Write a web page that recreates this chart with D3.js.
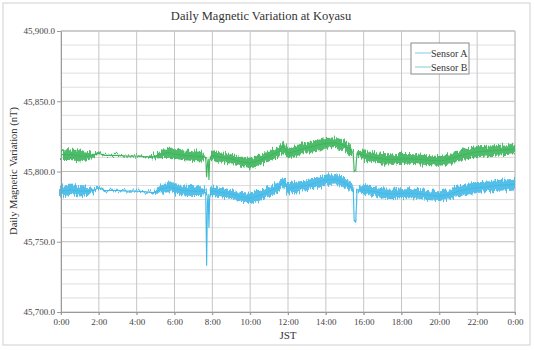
<!DOCTYPE html>
<html>
<head>
<meta charset="utf-8">
<script src="https://cdn.jsdelivr.net/npm/d3@7"></script>
<style>
  body { margin: 0; background: #fff; }
  svg { display: block; font-family: "Liberation Serif", "Times New Roman", Times, serif; }
</style>
</head>
<body>
<svg id="chart" width="534" height="350"></svg>
<script>
// hours since 0:00 JST
const times = [0, 0.5, 1, 1.5, 1.8, 2.0, 2.3, 3, 3.5, 4, 4.5, 4.9, 5.3, 5.7, 6, 6.5, 7, 7.5,
  7.65, 7.70, 7.74, 7.78, 7.82, 7.86, 7.92, 8, 8.5, 9, 9.5, 10, 10.5, 11, 11.5, 11.75, 12,
  12.5, 13, 13.5, 14, 14.5, 15, 15.3, 15.45, 15.5, 15.58, 15.65, 16, 16.5, 17, 17.5, 18,
  18.5, 19, 19.5, 20, 20.5, 21, 21.5, 22, 22.5, 23, 23.5, 24];

const sensorA = [45786, 45787, 45786, 45786, 45787, 45788.5, 45786.5, 45786.5, 45786, 45786,
  45785.5, 45785, 45787.5, 45789, 45788, 45786.5, 45786, 45786,
  45785, 45733, 45778, 45784, 45760, 45782, 45786, 45786, 45785, 45784, 45782, 45781, 45783,
  45786, 45788.5, 45793, 45788, 45789, 45790, 45792, 45794, 45794.5, 45792, 45789, 45786,
  45765, 45764, 45787, 45787, 45786, 45784.5, 45784, 45784.5, 45784.5, 45784, 45783,
  45782.5, 45783.5, 45786, 45787.5, 45788.5, 45789, 45790, 45790.5, 45791];

const sensorB = [45812, 45812, 45811, 45811, 45812, 45813, 45811.5, 45811.5, 45811, 45811,
  45810.5, 45810.5, 45812.5, 45813.5, 45812.5, 45811.5, 45811, 45810.5,
  45810, 45796, 45805, 45809, 45794, 45808, 45811, 45811.5, 45810, 45809, 45807, 45806,
  45808, 45811, 45814, 45818, 45813, 45815, 45817, 45818.5, 45820, 45820.5, 45818.5,
  45815.5, 45813, 45800, 45801, 45813, 45811.5, 45810, 45809, 45808.5, 45809, 45809,
  45808.5, 45808, 45807.5, 45808.5, 45811, 45812.5, 45814, 45814.5, 45815, 45815.5, 45816];

// half spread of the fast fluctuation around each value (nT)
const spread = [3.8, 3.8, 3.8, 2.8, 1.2, 0.8, 0.5, 0.5, 0.5, 0.5, 0.5, 1.2, 3, 3.8, 3.5, 3.5, 3.5, 3.5,
  0.8, 0.3, 0.4, 0.4, 0.3, 0.4, 2.5, 3.5, 3.5, 3.5, 3.5, 3.8, 3.8, 3.8, 3.8, 3.5, 3.8, 3.8, 3.8, 3.8,
  3.8, 3.8, 3.8, 3.5, 1.5, 0.3, 0.4, 1.5, 3.5, 3.5, 3.5, 3.8, 3.5, 3.5, 3.5, 3.5, 3.5, 3.5, 3.8, 3.8,
  3.8, 3.8, 3.8, 3.8, 3.8];

const xTickHours = [0, 2, 4, 6, 8, 10, 12, 14, 16, 18, 20, 22, 24];
const xTickLabels = ["0:00", "2:00", "4:00", "6:00", "8:00", "10:00", "12:00", "14:00",
  "16:00", "18:00", "20:00", "22:00", "0:00"];
const yTicks = [45700, 45750, 45800, 45850, 45900];

const seriesNames = ["Sensor A", "Sensor B"];
const seriesColors = ["#42b9e6", "#3eb55d"];
const legendColors = ["#8fd4ee", "#98d6dc"];

const serif = "'Liberation Serif', 'Times New Roman', Times, serif";

const svg = d3.select("#chart");

const plotL = 61, plotR = 515, plotT = 31, plotB = 312;

const x = d3.scaleLinear().domain([0, 24]).range([plotL, plotR]);
const y = d3.scaleLinear().domain([45700, 45900]).range([plotB, plotT]);

// outer frame
svg.append("rect")
  .attr("x", 3).attr("y", 3)
  .attr("width", 527).attr("height", 342)
  .attr("fill", "#fff")
  .attr("stroke", "#cfcfcf");

// title
svg.append("text")
  .attr("x", 261).attr("y", 20)
  .attr("text-anchor", "middle")
  .style("font-family", serif)
  .attr("font-size", "12.5px")
  .attr("fill", "#333")
  .text("Daily Magnetic Variation at Koyasu");

// horizontal grid, every 10 nT
const minorY = d3.range(45700, 45901, 10);
svg.append("g").selectAll("line")
  .data(minorY)
  .enter().append("line")
  .attr("x1", plotL).attr("x2", plotR)
  .attr("y1", d => y(d)).attr("y2", d => y(d))
  .attr("stroke", d => d % 50 === 0 ? "#bdbdbd" : "#dedede")
  .attr("stroke-width", 1);

// vertical grid
svg.append("g").selectAll("line")
  .data(xTickHours)
  .enter().append("line")
  .attr("x1", d => x(d)).attr("x2", d => x(d))
  .attr("y1", plotT).attr("y2", plotB + 3)
  .attr("stroke", "#c6c6c6");

// axes
const yAxis = d3.axisLeft(y)
  .tickValues(yTicks)
  .tickSize(4)
  .tickFormat(d => d3.format(",.1f")(d));
const yg = svg.append("g").attr("transform", `translate(${plotL},0)`).call(yAxis);
yg.attr("font-family", null);
yg.select(".domain").attr("stroke", "#9a9a9a");
yg.selectAll(".tick line").attr("stroke", "#9a9a9a");
yg.selectAll(".tick text")
  .style("font-family", serif)
  .attr("font-size", "9px")
  .attr("fill", "#444")
  .attr("x", -6);

const xAxis = d3.axisBottom(x)
  .tickValues(xTickHours)
  .tickSize(3)
  .tickFormat((d, i) => xTickLabels[i]);
const xg = svg.append("g").attr("transform", `translate(0,${plotB})`).call(xAxis);
xg.attr("font-family", null);
xg.select(".domain").attr("stroke", "#9a9a9a");
xg.selectAll(".tick line").attr("stroke", "#9a9a9a");
xg.selectAll(".tick text")
  .style("font-family", serif)
  .attr("font-size", "9px")
  .attr("fill", "#444")
  .attr("y", 7);

// top / right frame of plot
svg.append("line").attr("x1", plotL).attr("x2", plotR).attr("y1", plotT).attr("y2", plotT)
  .attr("stroke", "#bdbdbd");
svg.append("line").attr("x1", plotR).attr("x2", plotR).attr("y1", plotT).attr("y2", plotB)
  .attr("stroke", "#c6c6c6");

// axis titles
svg.append("text")
  .attr("x", 288).attr("y", 339)
  .attr("text-anchor", "middle")
  .style("font-family", serif)
  .attr("font-size", "11px")
  .attr("fill", "#333")
  .text("JST");

svg.append("text")
  .attr("transform", "translate(17,171) rotate(-90)")
  .attr("text-anchor", "middle")
  .style("font-family", serif)
  .attr("font-size", "10.5px")
  .attr("fill", "#333")
  .text("Daily Magnetic Variation (nT)");

// roughness for the fast fluctuation band
const defs = svg.append("defs");
const filt = defs.append("filter")
  .attr("id", "rough")
  .attr("x", "-2%").attr("y", "-40%")
  .attr("width", "104%").attr("height", "180%");
filt.append("feTurbulence")
  .attr("type", "fractalNoise")
  .attr("baseFrequency", "0.9 0.05")
  .attr("numOctaves", 2)
  .attr("seed", 11)
  .attr("result", "noise");
filt.append("feDisplacementMap")
  .attr("in", "SourceGraphic")
  .attr("in2", "noise")
  .attr("scale", 9)
  .attr("xChannelSelector", "G")
  .attr("yChannelSelector", "R");

const series = [sensorA, sensorB];

series.forEach((vals, k) => {
  const pts = times.map((t, i) => ({ t, v: vals[i], s: spread[i] }));

  const band = d3.area()
    .x(d => x(d.t))
    .y0(d => y(d.v - d.s))
    .y1(d => y(d.v + d.s));

  const line = d3.line()
    .x(d => x(d.t))
    .y(d => y(d.v));

  svg.append("path")
    .datum(pts)
    .attr("d", band)
    .attr("fill", seriesColors[k])
    .attr("opacity", 0.9)
    .attr("filter", "url(#rough)");

  svg.append("path")
    .datum(pts)
    .attr("d", line)
    .attr("fill", "none")
    .attr("stroke", seriesColors[k])
    .attr("stroke-width", 1.1);
});

// legend
const legend = svg.append("g").attr("transform", "translate(411,43)");
legend.append("rect")
  .attr("width", 58).attr("height", 31)
  .attr("fill", "#fff")
  .attr("stroke", "#8a8a8a");

const li = legend.selectAll(".legend-item")
  .data(seriesNames)
  .enter().append("g")
  .attr("class", "legend-item")
  .attr("transform", (d, i) => `translate(0,${10 + i * 14})`);

li.append("line")
  .attr("x1", 4).attr("x2", 20)
  .attr("y1", 0).attr("y2", 0)
  .attr("stroke", (d, i) => legendColors[i])
  .attr("stroke-width", 1.2);

li.append("text")
  .attr("x", 20).attr("y", 3.5)
  .style("font-family", serif)
  .attr("font-size", "10px")
  .attr("fill", "#333")
  .text(d => d);
</script>
</body>
</html>
